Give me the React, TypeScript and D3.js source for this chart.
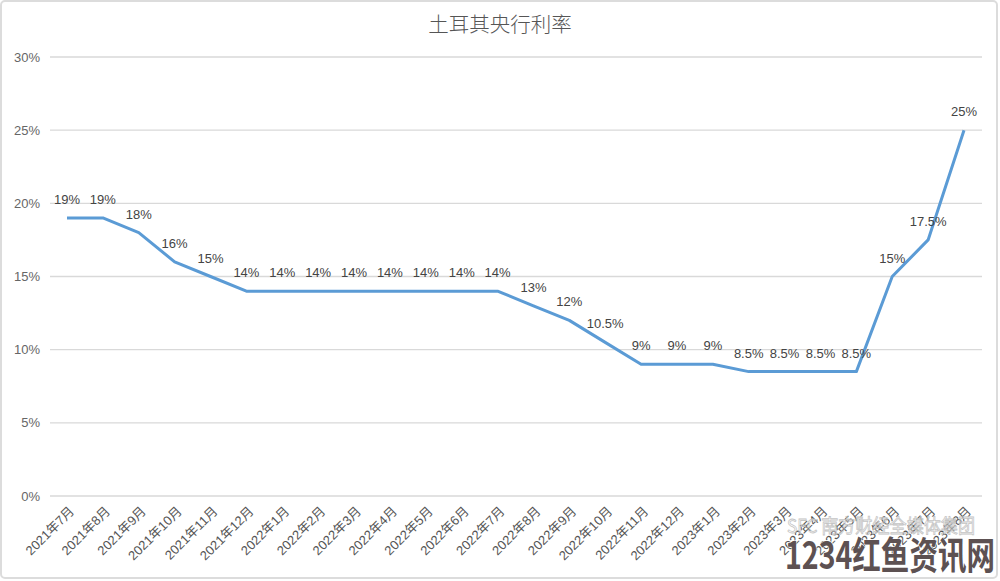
import React from "react";
import * as d3 from "d3";

const categories = [
  "2021年7月","2021年8月","2021年9月","2021年10月","2021年11月","2021年12月",
  "2022年1月","2022年2月","2022年3月","2022年4月","2022年5月","2022年6月",
  "2022年7月","2022年8月","2022年9月","2022年10月","2022年11月","2022年12月",
  "2023年1月","2023年2月","2023年3月","2023年4月","2023年5月","2023年6月",
  "2023年7月","2023年8月",
];
const rates = [19,19,18,16,15,14,14,14,14,14,14,14,14,13,12,10.5,9,9,9,8.5,8.5,8.5,8.5,15,17.5,25];
const yTicks = [0,5,10,15,20,25,30];
const title = "土耳其央行利率";

export default function App() {
  const W = 1000, H = 581;
  const x = d3.scalePoint<string>().domain(categories).range([67, 964]);
  const y = d3.scaleLinear().domain([0, 30]).range([496, 57]);
  const line = d3.line<number>().x((_, i) => x(categories[i])!).y(d => y(d));
  const font = "'Helvetica Neue', Arial, 'Liberation Sans', 'Noto Sans CJK SC', sans-serif";
  return (
    <svg width={W} height={H} style={{ position: "absolute", left: 0, top: 0, background: "#fff" }}>
      <rect x={1} y={1} width={996} height={577} rx={4} fill="#fff" stroke="#dcdcdc" strokeWidth={2} />
      <text x={500} y={32} textAnchor="middle" fontSize={20.5} fill="#555"
        fontFamily="'Noto Sans CJK SC', sans-serif" fontWeight={300}>{title}</text>
      {yTicks.map(t => (
        <g key={t}>
          <line x1={50} x2={982} y1={y(t)} y2={y(t)} stroke="#d9d9d9" strokeWidth={1.3} />
          <text x={40} y={y(t) + 4.5} textAnchor="end" fontSize={13} fill="#666" fontFamily={font}>{t}%</text>
        </g>
      ))}
      <path d={line(rates)!} fill="none" stroke="#5b9bd5" strokeWidth={3} strokeLinejoin="round" />
      {rates.map((v, i) => (
        <text key={i} x={x(categories[i])!} y={y(v) - 14} textAnchor="middle" fontSize={13}
          fill="#444" fontFamily={font}>{v}%</text>
      ))}
      {categories.map((c, i) => (
        <text key={c} transform={`translate(${x(categories[i])! + 8},${512}) rotate(-45)`}
          textAnchor="end" fontSize={13} fill="#555" fontFamily={font}>{c}</text>
      ))}
      <text x={787} y={533} fontSize={19} textLength={188} lengthAdjust="spacingAndGlyphs"
        fill="none" stroke="#c4c4c4" strokeWidth={0.8}
        fontFamily="'Noto Sans CJK SC', sans-serif">SFC 南方财经全媒体集团</text>
      <text x={785} y={569} fontSize={38} fontWeight={700} textLength={210} lengthAdjust="spacingAndGlyphs"
        fill="#5d5152" stroke="#fff" strokeWidth={1}
        paintOrder="stroke" fontFamily="'Noto Sans CJK SC', sans-serif">1234红鱼资讯网</text>
    </svg>
  );
}
